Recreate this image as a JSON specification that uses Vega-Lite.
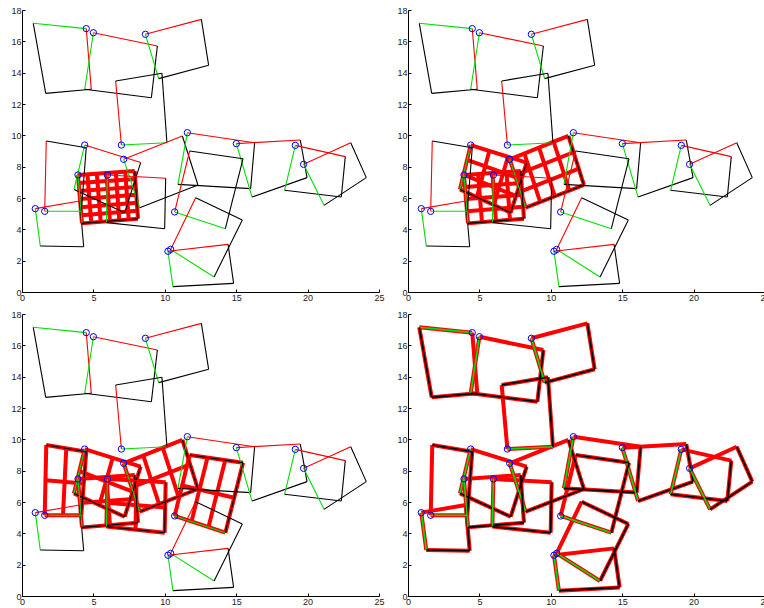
{
  "$schema": "https://vega.github.io/schema/vega-lite/v6.json",
  "padding": {"left": 10, "top": 6, "right": 0, "bottom": 0},
  "bounds": "flush",
  "spacing": {"row": 22, "column": 29},
  "columns": 2,
  "config": {
    "view": {"stroke": null},
    "axis": {"grid": false, "title": null, "domainColor": "#000", "tickColor": "#000", "tickSize": -3, "labelPadding": 4, "labelOverlap": false, "labelFlush": false, "labelBound": false, "labelFont": "Liberation Sans", "labelFontSize": 9, "labelColor": "#222"},
    "axisY": {"values": [0, 2, 4, 6, 8, 10, 12, 14, 16, 18]}
  },
  "datasets": {
    "edges": [
      {"s":1,"k":"red","x":4.50,"y":16.81,"x2":4.85,"y2":12.94},
      {"s":1,"k":"green","x":4.50,"y":16.81,"x2":0.79,"y2":17.15},
      {"s":1,"k":"black","x":4.85,"y":12.94,"x2":1.66,"y2":12.68},
      {"s":1,"k":"black","x":0.79,"y":17.15,"x2":1.66,"y2":12.68},
      {"s":2,"k":"red","x":5.00,"y":16.55,"x2":9.48,"y2":15.70},
      {"s":2,"k":"green","x":5.00,"y":16.55,"x2":4.39,"y2":12.94},
      {"s":2,"k":"black","x":9.48,"y":15.70,"x2":9.06,"y2":12.40},
      {"s":2,"k":"black","x":4.39,"y":12.94,"x2":9.06,"y2":12.40},
      {"s":3,"k":"red","x":8.64,"y":16.45,"x2":12.56,"y2":17.40},
      {"s":3,"k":"green","x":8.64,"y":16.45,"x2":9.57,"y2":13.62},
      {"s":3,"k":"black","x":12.56,"y":17.40,"x2":13.07,"y2":14.47},
      {"s":3,"k":"black","x":9.57,"y":13.62,"x2":13.07,"y2":14.47},
      {"s":4,"k":"red","x":6.96,"y":9.38,"x2":6.56,"y2":13.47},
      {"s":4,"k":"green","x":6.96,"y":9.38,"x2":10.15,"y2":9.53},
      {"s":4,"k":"black","x":6.56,"y":13.47,"x2":9.80,"y2":13.96},
      {"s":4,"k":"black","x":10.15,"y":9.53,"x2":9.80,"y2":13.96},
      {"s":5,"k":"red","x":4.39,"y":9.38,"x2":8.31,"y2":8.26},
      {"s":5,"k":"green","x":4.39,"y":9.38,"x2":3.64,"y2":6.55},
      {"s":5,"k":"black","x":8.31,"y":8.26,"x2":7.19,"y2":5.06},
      {"s":5,"k":"black","x":3.64,"y":6.55,"x2":7.19,"y2":5.06},
      {"s":6,"k":"red","x":7.12,"y":8.47,"x2":11.23,"y2":9.96},
      {"s":6,"k":"green","x":7.12,"y":8.47,"x2":8.24,"y2":5.38},
      {"s":6,"k":"black","x":11.23,"y":9.96,"x2":12.32,"y2":6.83},
      {"s":6,"k":"black","x":8.24,"y":5.38,"x2":12.32,"y2":6.83},
      {"s":7,"k":"red","x":11.58,"y":10.17,"x2":16.29,"y2":9.53},
      {"s":7,"k":"green","x":11.58,"y":10.17,"x2":10.92,"y2":6.87},
      {"s":7,"k":"black","x":16.29,"y":9.53,"x2":16.01,"y2":6.60},
      {"s":7,"k":"black","x":10.92,"y":6.87,"x2":16.01,"y2":6.60},
      {"s":8,"k":"red","x":15.01,"y":9.47,"x2":19.49,"y2":9.70},
      {"s":8,"k":"green","x":15.01,"y":9.47,"x2":16.11,"y2":6.06},
      {"s":8,"k":"black","x":19.49,"y":9.70,"x2":19.96,"y2":7.30},
      {"s":8,"k":"black","x":16.11,"y":6.06,"x2":19.96,"y2":7.30},
      {"s":9,"k":"red","x":19.14,"y":9.36,"x2":22.64,"y2":8.64},
      {"s":9,"k":"green","x":19.14,"y":9.36,"x2":18.39,"y2":6.49},
      {"s":9,"k":"black","x":22.64,"y":8.64,"x2":22.36,"y2":6.06},
      {"s":9,"k":"black","x":18.39,"y":6.49,"x2":22.36,"y2":6.06},
      {"s":10,"k":"red","x":19.72,"y":8.15,"x2":23.02,"y2":9.53},
      {"s":10,"k":"green","x":19.72,"y":8.15,"x2":21.15,"y2":5.53},
      {"s":10,"k":"black","x":23.02,"y":9.53,"x2":24.11,"y2":7.30},
      {"s":10,"k":"black","x":21.15,"y":5.53,"x2":24.11,"y2":7.30},
      {"s":11,"k":"red","x":10.69,"y":5.11,"x2":11.74,"y2":9.00},
      {"s":11,"k":"green","x":10.69,"y":5.11,"x2":14.24,"y2":4.04},
      {"s":11,"k":"black","x":11.74,"y":9.00,"x2":15.48,"y2":8.51},
      {"s":11,"k":"black","x":14.24,"y":4.04,"x2":15.48,"y2":8.51},
      {"s":12,"k":"red","x":10.41,"y":2.72,"x2":12.16,"y2":6.02},
      {"s":12,"k":"green","x":10.41,"y":2.72,"x2":13.45,"y2":0.96},
      {"s":12,"k":"black","x":12.16,"y":6.02,"x2":15.43,"y2":4.60},
      {"s":12,"k":"black","x":13.45,"y":0.96,"x2":15.43,"y2":4.60},
      {"s":13,"k":"red","x":10.22,"y":2.60,"x2":14.43,"y2":3.04},
      {"s":13,"k":"green","x":10.22,"y":2.60,"x2":10.57,"y2":0.34},
      {"s":13,"k":"black","x":14.43,"y":3.04,"x2":14.82,"y2":0.55},
      {"s":13,"k":"black","x":10.57,"y":0.34,"x2":14.82,"y2":0.55},
      {"s":14,"k":"red","x":0.93,"y":5.32,"x2":4.04,"y2":5.81},
      {"s":14,"k":"green","x":0.93,"y":5.32,"x2":1.28,"y2":2.94},
      {"s":14,"k":"black","x":4.04,"y":5.81,"x2":4.32,"y2":2.89},
      {"s":14,"k":"black","x":1.28,"y":2.94,"x2":4.32,"y2":2.89},
      {"s":15,"k":"red","x":1.59,"y":5.15,"x2":1.70,"y2":9.64},
      {"s":15,"k":"green","x":1.59,"y":5.15,"x2":4.15,"y2":5.15},
      {"s":15,"k":"black","x":1.70,"y":9.64,"x2":4.50,"y2":9.21},
      {"s":15,"k":"black","x":4.15,"y":5.15,"x2":4.50,"y2":9.21},
      {"s":16,"k":"red","x":3.92,"y":7.47,"x2":7.89,"y2":7.72},
      {"s":16,"k":"green","x":3.92,"y":7.47,"x2":4.20,"y2":4.38},
      {"s":16,"k":"black","x":7.89,"y":7.72,"x2":8.12,"y2":4.68},
      {"s":16,"k":"black","x":4.20,"y":4.38,"x2":8.12,"y2":4.68},
      {"s":17,"k":"red","x":5.98,"y":7.47,"x2":10.06,"y2":7.26},
      {"s":17,"k":"green","x":5.98,"y":7.47,"x2":5.91,"y2":4.43},
      {"s":17,"k":"black","x":10.06,"y":7.26,"x2":9.99,"y2":4.04},
      {"s":17,"k":"black","x":5.91,"y":4.43,"x2":9.99,"y2":4.04}
    ],
    "grid": [
      {"p":1,"x":4.58,"y":7.51,"x2":4.85,"y2":4.43},
      {"p":1,"x":5.24,"y":7.55,"x2":5.51,"y2":4.48},
      {"p":1,"x":5.91,"y":7.60,"x2":6.16,"y2":4.53},
      {"p":1,"x":6.57,"y":7.64,"x2":6.81,"y2":4.58},
      {"p":1,"x":7.23,"y":7.68,"x2":7.47,"y2":4.63},
      {"p":1,"x":3.97,"y":6.96,"x2":7.93,"y2":7.21},
      {"p":1,"x":4.01,"y":6.44,"x2":7.97,"y2":6.71},
      {"p":1,"x":4.06,"y":5.93,"x2":8.01,"y2":6.20},
      {"p":1,"x":4.11,"y":5.41,"x2":8.04,"y2":5.69},
      {"p":1,"x":4.15,"y":4.90,"x2":8.08,"y2":5.19},
      {"p":2,"x":4.91,"y":7.53,"x2":5.18,"y2":4.46},
      {"p":2,"x":5.91,"y":7.60,"x2":6.16,"y2":4.53},
      {"p":2,"x":6.90,"y":7.66,"x2":7.14,"y2":4.61},
      {"p":2,"x":3.99,"y":6.70,"x2":7.95,"y2":6.96},
      {"p":2,"x":4.06,"y":5.93,"x2":8.01,"y2":6.20},
      {"p":2,"x":4.13,"y":5.15,"x2":8.06,"y2":5.44},
      {"p":2,"x":5.70,"y":9.01,"x2":4.82,"y2":6.05},
      {"p":2,"x":7.00,"y":8.63,"x2":6.01,"y2":5.56},
      {"p":2,"x":4.14,"y":8.44,"x2":7.94,"y2":7.19},
      {"p":2,"x":3.89,"y":7.49,"x2":7.56,"y2":6.13},
      {"p":2,"x":8.15,"y":8.84,"x2":9.26,"y2":5.74},
      {"p":2,"x":9.18,"y":9.22,"x2":10.28,"y2":6.11},
      {"p":2,"x":10.20,"y":9.59,"x2":11.30,"y2":6.47},
      {"p":2,"x":7.49,"y":7.44,"x2":11.59,"y2":8.92},
      {"p":2,"x":7.87,"y":6.41,"x2":11.96,"y2":7.87},
      {"p":3,"x":1.645,"y":7.395,"x2":4.325,"y2":7.18},
      {"p":3,"x":2.87,"y":5.15,"x2":3.10,"y2":9.425},
      {"p":3,"x":6.35,"y":8.82,"x2":5.42,"y2":5.81},
      {"p":3,"x":4.02,"y":7.97,"x2":7.75,"y2":6.66},
      {"p":3,"x":5.91,"y":7.60,"x2":6.16,"y2":4.53},
      {"p":3,"x":4.06,"y":5.93,"x2":8.01,"y2":6.20},
      {"p":3,"x":8.02,"y":7.365,"x2":7.95,"y2":4.235},
      {"p":3,"x":5.945,"y":5.95,"x2":10.025,"y2":5.65},
      {"p":3,"x":8.49,"y":8.97,"x2":9.60,"y2":5.86},
      {"p":3,"x":9.86,"y":9.46,"x2":10.96,"y2":6.35},
      {"p":3,"x":7.68,"y":6.93,"x2":11.78,"y2":8.40},
      {"p":3,"x":11.215,"y":7.055,"x2":14.86,"y2":6.275},
      {"p":3,"x":11.87,"y":4.75,"x2":12.99,"y2":8.84},
      {"p":3,"x":13.06,"y":4.40,"x2":14.23,"y2":8.67}
    ]
  },
  "concat": [
    {
      "width": 357, "height": 282,
      "layer": [
        {"data": {"name": "grid"}, "transform": [{"filter": "datum.p == 1"}],
         "mark": {"type": "rule", "color": "#ff0000", "strokeWidth": 4},
         "encoding": {
           "x": {"field": "x", "type": "quantitative", "scale": {"domain": [0, 25], "nice": false}, "axis": {"values": [0, 5, 10, 15, 20, 25]}},
           "y": {"field": "y", "type": "quantitative", "scale": {"domain": [0, 18], "nice": false}},
           "x2": {"field": "x2"}, "y2": {"field": "y2"}}},
        {"data": {"name": "edges"}, "transform": [{"filter": "datum.s == 16"}],
         "mark": {"type": "rule", "color": "#ff0000", "strokeWidth": 4},
         "encoding": {"x": {"field": "x", "type": "quantitative"}, "y": {"field": "y", "type": "quantitative"}, "x2": {"field": "x2"}, "y2": {"field": "y2"}}},
        {"data": {"name": "edges"},
         "mark": {"type": "rule", "strokeWidth": 1.1},
         "encoding": {"x": {"field": "x", "type": "quantitative"}, "y": {"field": "y", "type": "quantitative"}, "x2": {"field": "x2"}, "y2": {"field": "y2"},
           "color": {"field": "k", "type": "nominal", "scale": {"domain": ["red", "green", "black"], "range": ["#ff0000", "#00e000", "#000000"]}, "legend": null}}},
        {"data": {"name": "edges"}, "transform": [{"filter": "datum.k == 'red'"}],
         "mark": {"type": "point", "shape": "circle", "filled": false, "color": "#0000ff", "size": 40, "strokeWidth": 1, "opacity": 1},
         "encoding": {"x": {"field": "x", "type": "quantitative"}, "y": {"field": "y", "type": "quantitative"}}}
      ]
    },
    {
      "width": 357, "height": 282,
      "layer": [
        {"data": {"name": "grid"}, "transform": [{"filter": "datum.p == 2"}],
         "mark": {"type": "rule", "color": "#ff0000", "strokeWidth": 4},
         "encoding": {
           "x": {"field": "x", "type": "quantitative", "scale": {"domain": [0, 25], "nice": false}, "axis": {"values": [0, 5, 10, 15, 20, 25]}},
           "y": {"field": "y", "type": "quantitative", "scale": {"domain": [0, 18], "nice": false}},
           "x2": {"field": "x2"}, "y2": {"field": "y2"}}},
        {"data": {"name": "edges"}, "transform": [{"filter": "datum.s == 16 || datum.s == 5 || datum.s == 6"}],
         "mark": {"type": "rule", "color": "#ff0000", "strokeWidth": 4},
         "encoding": {"x": {"field": "x", "type": "quantitative"}, "y": {"field": "y", "type": "quantitative"}, "x2": {"field": "x2"}, "y2": {"field": "y2"}}},
        {"data": {"name": "edges"},
         "mark": {"type": "rule", "strokeWidth": 1.1},
         "encoding": {"x": {"field": "x", "type": "quantitative"}, "y": {"field": "y", "type": "quantitative"}, "x2": {"field": "x2"}, "y2": {"field": "y2"},
           "color": {"field": "k", "type": "nominal", "scale": {"domain": ["red", "green", "black"], "range": ["#ff0000", "#00e000", "#000000"]}, "legend": null}}},
        {"data": {"name": "edges"}, "transform": [{"filter": "datum.k == 'red'"}],
         "mark": {"type": "point", "shape": "circle", "filled": false, "color": "#0000ff", "size": 40, "strokeWidth": 1, "opacity": 1},
         "encoding": {"x": {"field": "x", "type": "quantitative"}, "y": {"field": "y", "type": "quantitative"}}}
      ]
    },
    {
      "width": 357, "height": 282,
      "layer": [
        {"data": {"name": "grid"}, "transform": [{"filter": "datum.p == 3"}],
         "mark": {"type": "rule", "color": "#ff0000", "strokeWidth": 4},
         "encoding": {
           "x": {"field": "x", "type": "quantitative", "scale": {"domain": [0, 25], "nice": false}, "axis": {"values": [0, 5, 10, 15, 20, 25]}},
           "y": {"field": "y", "type": "quantitative", "scale": {"domain": [0, 18], "nice": false}},
           "x2": {"field": "x2"}, "y2": {"field": "y2"}}},
        {"data": {"name": "edges"}, "transform": [{"filter": "indexof([15, 5, 16, 17, 6, 11], datum.s) >= 0"}],
         "mark": {"type": "rule", "color": "#ff0000", "strokeWidth": 4},
         "encoding": {"x": {"field": "x", "type": "quantitative"}, "y": {"field": "y", "type": "quantitative"}, "x2": {"field": "x2"}, "y2": {"field": "y2"}}},
        {"data": {"name": "edges"},
         "mark": {"type": "rule", "strokeWidth": 1.1},
         "encoding": {"x": {"field": "x", "type": "quantitative"}, "y": {"field": "y", "type": "quantitative"}, "x2": {"field": "x2"}, "y2": {"field": "y2"},
           "color": {"field": "k", "type": "nominal", "scale": {"domain": ["red", "green", "black"], "range": ["#ff0000", "#00e000", "#000000"]}, "legend": null}}},
        {"data": {"name": "edges"}, "transform": [{"filter": "datum.k == 'red'"}],
         "mark": {"type": "point", "shape": "circle", "filled": false, "color": "#0000ff", "size": 40, "strokeWidth": 1, "opacity": 1},
         "encoding": {"x": {"field": "x", "type": "quantitative"}, "y": {"field": "y", "type": "quantitative"}}}
      ]
    },
    {
      "width": 357, "height": 282,
      "layer": [
        {"data": {"name": "edges"},
         "mark": {"type": "rule", "color": "#ff0000", "strokeWidth": 4},
         "encoding": {
           "x": {"field": "x", "type": "quantitative", "scale": {"domain": [0, 25], "nice": false}, "axis": {"values": [0, 5, 10, 15, 20, 25]}},
           "y": {"field": "y", "type": "quantitative", "scale": {"domain": [0, 18], "nice": false}},
           "x2": {"field": "x2"}, "y2": {"field": "y2"}}},
        {"data": {"name": "edges"}, "transform": [{"filter": "datum.k != 'red'"}],
         "mark": {"type": "rule", "strokeWidth": 1.6},
         "encoding": {"x": {"field": "x", "type": "quantitative"}, "y": {"field": "y", "type": "quantitative"}, "x2": {"field": "x2"}, "y2": {"field": "y2"},
           "color": {"field": "k", "type": "nominal", "scale": {"domain": ["red", "green", "black"], "range": ["#ff0000", "#00e000", "#200000"]}, "legend": null}}},
        {"data": {"name": "edges"}, "transform": [{"filter": "datum.k == 'red'"}],
         "mark": {"type": "point", "shape": "circle", "filled": false, "color": "#0000ff", "size": 40, "strokeWidth": 1, "opacity": 1},
         "encoding": {"x": {"field": "x", "type": "quantitative"}, "y": {"field": "y", "type": "quantitative"}}}
      ]
    }
  ]
}
